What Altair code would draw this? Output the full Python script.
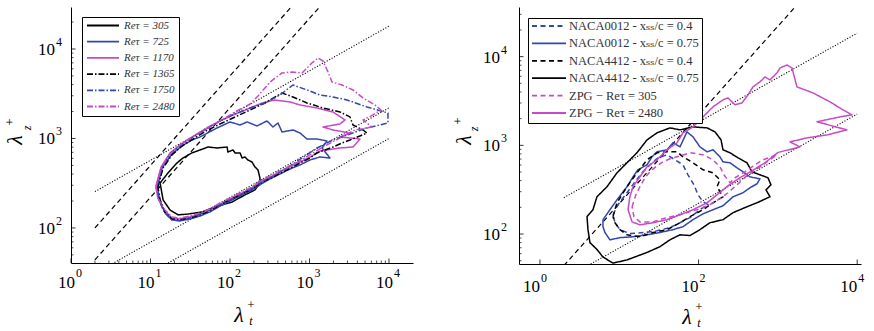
import math

import altair as alt
import pandas as pd

FONT = "Liberation Serif, DejaVu Serif, serif"
BLACK = "#000000"
BLUE = "#3146ae"
MAGENTA = "#c74ac6"

SOLID = [1, 0]
DASH = [5, 3.5]
DASHDOT = [6, 2, 1.5, 2]

# ---------------------------------------------------------------------------
# Left panel: ZPG boundary layers, one contour per Re_tau
# ---------------------------------------------------------------------------
zpg_names = ["Reτ = 305", "Reτ = 725", "Reτ = 1170",
             "Reτ = 1365", "Reτ = 1750", "Reτ = 2480"]
zpg_colors = [BLACK, BLUE, MAGENTA, BLACK, BLUE, MAGENTA]
zpg_dashes = [SOLID, SOLID, SOLID, DASHDOT, DASHDOT, DASHDOT]

re305_lt = [13.2, 14.4, 17.6, 22.2, 29.6, 44.5, 64.8, 106, 154, 206, 238, 238, 225, 206, 189, 168,
            154, 142, 134, 116, 109, 94, 92, 69, 53, 42, 33, 25.6, 21.5, 16.6, 13.2]
re305_lz = [318, 206, 159, 140, 143, 151, 172, 195, 234, 266, 318, 362, 445, 481, 546, 575,
            621, 605, 689, 689, 744, 707, 803, 783, 803, 744, 689, 605, 532, 412, 318]

re725_lt = [12.1, 14, 18.6, 24.9, 33.3, 42, 68.6, 100, 134, 164, 219, 292, 347, 402, 451, 620,
            760, 930, 1242, 1660, 1436, 1811, 1355, 1015, 760, 569, 425, 319, 260, 179, 134,
            100, 75, 56, 42, 31.4, 23.5, 18.6, 15.2, 13.2, 12.1]
re725_lz = [280, 468, 671, 824, 962, 1040, 1310, 1529, 1415, 1529, 1380, 1570, 1344, 1490, 1182, 1244,
            1152, 986, 986, 938, 783, 605, 621, 575, 506, 456, 401, 353, 318, 259, 228,
            200, 176, 151, 136, 126, 120, 123, 147, 200, 280]

re1170_lt = [11.7, 13.6, 17.6, 23.5, 33.3, 48.5, 70.6, 109, 179, 253, 368, 569, 760, 1242, 1976,
             2797, 2420, 1479, 1976, 3230, 2420, 4317, 3525, 2420, 1355, 1015, 760, 569, 425, 319,
             238, 179, 134, 100, 75, 56, 42, 31.4, 23.5, 18.6, 14.8, 12.4, 11.7]
re1170_lz = [294, 481, 689, 846, 1040, 1244, 1529, 1832, 2193, 2494, 2691, 2558, 2366, 2193, 1977,
             1610, 1452, 1344, 1244, 1152, 1040, 986, 803, 783, 724, 621, 546, 481, 423, 371,
             327, 273, 240, 211, 185, 159, 143, 133, 126, 129, 159, 216, 294]

re1365_lt = [12.4, 14.4, 18.6, 24.9, 34.3, 49.9, 74.8, 116, 179, 276, 451, 620, 930, 1479, 2420,
             3230, 3525, 4710, 5285, 4317, 3230, 2564, 1976, 1567, 1242, 1015, 760, 620, 464, 347,
             260, 179, 134, 100, 75, 56, 42, 31.4, 23.5, 18.6, 15.2, 13.2, 12.4]
re1365_lz = [287, 468, 655, 824, 986, 1213, 1452, 1740, 2081, 2494, 3223, 2911, 2494, 2193, 1977,
             1740, 1415, 1244, 1152, 1067, 962, 891, 803, 744, 689, 605, 532, 481, 423, 371,
             327, 266, 234, 206, 181, 155, 140, 129, 123, 126, 151, 206, 287]

re1750_lt = [12.1, 14, 18.1, 24.2, 33.3, 48.5, 74.8, 116, 179, 276, 425, 620, 930, 1355, 1976,
             2966, 5285, 9709, 9709, 5285, 3230, 1976, 1242, 878, 620, 464, 319, 238, 179, 134,
             100, 75, 56, 42, 31.4, 23.5, 18.6, 14.8, 12.8, 12.1]
re1750_lz = [294, 481, 689, 846, 1014, 1277, 1570, 1879, 2193, 2494, 3062, 3961, 3484, 3062, 2911,
             2691, 2249, 1928, 1490, 1310, 1122, 962, 783, 637, 519, 445, 362, 318, 266, 234,
             206, 181, 159, 143, 129, 120, 123, 151, 206, 294]

re2480_lt = [11.7, 13.6, 17.6, 23.5, 33.3, 48.5, 74.8, 116, 179, 225, 319, 451, 603, 805, 1075,
             1279, 1479, 1710, 1919, 2564, 3525, 4710, 6668, 7925, 6293, 4710, 6113, 3736, 2420,
             1567, 1107, 760, 569, 425, 319, 238, 179, 134, 100, 75, 56, 42, 31.4, 23.5, 18.6,
             14.8, 12.4, 11.7]
re2480_lz = [287, 468, 671, 846, 1040, 1277, 1570, 1977, 2427, 2985, 4276, 5395, 5536, 5395, 6982,
             7930, 7341, 5536, 4276, 3961, 3484, 2838, 2366, 2081, 1832, 1610, 1344, 1244, 1014,
             824, 689, 561, 493, 434, 381, 335, 280, 246, 216, 190, 163, 147, 136, 129, 133,
             163, 216, 287]

# reference lines of the left panel (end points)
left_dash_id = ["a", "a", "b", "b"]
left_dash_lt = [2, 600, 2, 1340]
left_dash_lz = [100, 30000, 44, 29480]
left_dot_id = ["a", "a", "b", "b", "c", "c"]
left_dot_lt = [2, 10000, 2, 10000, 2, 10000]
left_dot_lz = [255, 18000, 31, 2200, 14, 1000]

# ---------------------------------------------------------------------------
# Right panel: airfoil suction sides against the ZPG limits
# ---------------------------------------------------------------------------
foil_names = ["NACA0012 - xₛₛ/c = 0.4", "NACA0012 - xₛₛ/c = 0.75",
              "NACA4412 - xₛₛ/c = 0.4", "NACA4412 - xₛₛ/c = 0.75",
              "ZPG − Reτ = 305", "ZPG − Reτ = 2480"]
foil_colors = [BLUE, BLUE, BLACK, BLACK, MAGENTA, MAGENTA]
foil_dashes = [DASH, SOLID, DASH, SOLID, DASH, SOLID]

n0012_04_lt = [8.33, 9.63, 12.5, 15.8, 19.3, 24.4, 30.8, 40, 50.4, 63.6, 73.5, 87.5, 98.2, 114,
               131.5, 104, 78, 58.3, 43.6, 29.9, 21.1, 13.6, 10.2, 8.83, 8.33]
n0012_04_lz = [165, 214, 292, 388, 489, 603, 723, 782, 687, 603, 465, 359, 277, 231,
               214, 188, 153, 134, 118, 109, 104, 101, 112, 134, 165]

n0012_075_lt = [6.23, 7.63, 9.35, 12.5, 14.9, 17.2, 22.4, 25.8, 29.9, 40, 47.6, 58.3, 71.4, 85,
                104, 128, 152, 186, 203, 249, 305, 363, 444, 594, 545, 444, 363, 272, 203, 152,
                114, 85, 63.6, 47.6, 32.6, 22.4, 14.9, 10.2, 7.63, 6.6, 6.23, 6.23]
n0012_075_lz = [145, 188, 243, 341, 441, 530, 603, 742, 845, 891, 1067, 961, 1419, 1248,
                961, 845, 891, 742, 652, 636, 558, 503, 441, 419, 368, 332, 292, 263, 208, 188,
                169, 145, 121, 112, 104, 98, 93, 91, 86, 104, 121, 145]

n4412_04_lt = [8.33, 9.35, 12.5, 16.7, 22.4, 29.9, 40, 53.3, 63.6, 85, 114, 152, 186, 171, 203,
               152, 114, 78, 58.3, 40, 26.6, 18.2, 12.5, 10.2, 8.83, 8.33]
n4412_04_lz = [157, 225, 341, 489, 687, 824, 845, 845, 742, 636, 530, 489, 409, 341, 263,
               225, 188, 157, 134, 112, 104, 93, 98, 112, 134, 157]

n4412_075_lt = [85, 128, 161, 192, 203, 249, 314, 408, 471, 594, 750, 818, 708, 795, 545, 408,
                272, 203, 139, 104, 78, 58.3, 43.6, 32.6, 22.4, 12.5, 8.33, 6.23, 5.23, 4.27,
                4.03, 3.92, 4.66, 5.23, 7.0, 9.35, 12.5, 16.7, 22.4, 29.9, 43.6, 58.3, 85]
n4412_075_lz = [1614, 1573, 1419, 1153, 891, 824, 723, 636, 503, 465, 431, 359, 315, 263, 225, 203,
                174, 145, 134, 112, 96, 98, 86, 72, 62, 51, 47, 55, 67, 80,
                112, 157, 188, 263, 341, 489, 636, 824, 1153, 1383, 1573, 1494, 1614]

zpg305_lt = [14.5, 16.2, 18.2, 21.1, 24.4, 29.9, 35.6, 43.6, 53.3, 78, 114, 152, 186, 209, 249,
             288, 385, 514, 649, 974, 795, 594, 420, 305, 235, 186, 139, 95.5, 58.3, 35.6, 26.6,
             18.2, 15.3, 14.5]
zpg305_lz = [203, 277, 341, 431, 503, 588, 652, 705, 742, 824, 782, 687, 573, 465, 378,
             431, 503, 603, 687, 782, 687, 573, 465, 359, 292, 250, 214, 188, 165, 149, 137,
             137, 157, 203]

zpg2480_lt = [14.9, 18.2, 22.4, 29.9, 40, 53.3, 63.6, 85, 104, 128, 152, 203, 235, 288, 352, 420,
              485, 594, 688, 795, 974, 1063, 1303, 1506, 1741, 2773, 4540, 6625, 8590, 6070, 3112,
              7430, 4160, 2328, 1421, 1900, 1000, 688, 471, 333, 235, 171, 128, 85, 58.3, 40,
              26.6, 18.2, 14.5, 12.9, 13.6, 14.9]
zpg2480_lz = [341, 441, 573, 687, 891, 1067, 1383, 1614, 1937, 2323, 2717, 3254, 3426, 2860, 3009, 3700,
              4560, 5190, 5900, 5470, 6550, 7460, 8060, 7460, 4560, 3900, 3090, 2511, 2208, 2093, 1842,
              1494, 1312, 1213, 1094, 961, 830, 636, 516, 431, 350, 277, 225, 188, 165, 145,
              134, 127, 137, 188, 263, 341]

right_dash_id = ["a", "a"]
right_dash_lt = [2, 1650]
right_dash_lz = [44, 36300]
right_dot_id = ["a", "a", "b", "b"]
right_dot_lt = [2, 10000, 2, 10000]
right_dot_lz = [257, 18400, 31, 2250]

# axis ticks
left_x_major = [1, 10, 100, 1000, 10000]
left_x_minor = [m * 10 ** k for k in range(4) for m in range(2, 10)]
left_y_major = [100, 1000, 10000]
left_y_minor = [50, 60, 70, 80, 90] + [m * 10 ** k for k in (2, 3) for m in range(2, 10)] + [20000]
right_x_major = [1, 100, 10000]
right_x_minor = []
right_y_major = [100, 1000, 10000]
right_y_minor = [50, 60, 70, 80, 90] + [m * 10 ** k for k in (2, 3) for m in range(2, 10)] + [20000, 30000]


def contour_table(names, lts, lzs):
    rows = []
    for name, xs, ys in zip(names, lts, lzs):
        assert len(xs) == len(ys), name
        for k, (a, b) in enumerate(zip(xs, ys)):
            rows.append({"series": name, "k": k, "lt": a, "lz": b})
    return pd.DataFrame(rows)


def exponent_table(values):
    return pd.DataFrame({"v": values,
                         "base": ["10"] * len(values),
                         "exp": [str(int(round(math.log10(v)))) for v in values]})


ONE = pd.DataFrame({"n": [0]})


def caption(text, x, y, size, style="normal", angle=0):
    return alt.Chart(ONE).mark_text(
        text=text, font=FONT, fontSize=size, fontStyle=style, angle=angle,
        align="center", baseline="middle", color="black",
    ).encode(x=alt.value(x), y=alt.value(y))


def panel(contours, names, colors, dashes, legend, dash_ref, dot_ref, xdom, ydom, w, h,
          xmajor, xminor, ymajor, yminor, xlab, ylab, titles, frame=False):
    xs = alt.Scale(type="log", domain=xdom, nice=False)
    ys = alt.Scale(type="log", domain=ydom, nice=False)
    ax = alt.Axis(labels=False, ticks=False, grid=False, title=None,
                  domainColor="black", domainWidth=1)

    def X(f):
        return alt.X(f, type="quantitative", scale=xs, axis=ax)

    def Y(f):
        return alt.Y(f, type="quantitative", scale=ys, axis=ax)

    layers = []
    if frame:
        layers.append(alt.Chart(ONE).mark_rect(opacity=0).encode(
            x=alt.value(-71), x2=alt.value(0), y=alt.value(-7), y2=alt.value(h)))

    layers.append(alt.Chart(dash_ref).mark_line(
        clip=True, color="black", strokeWidth=1.2, strokeDash=[5, 3.5]
    ).encode(x=X("lt"), y=Y("lz"), detail="id:N"))
    layers.append(alt.Chart(dot_ref).mark_line(
        clip=True, color="black", strokeWidth=1.1, strokeDash=[1.1, 1.7]
    ).encode(x=X("lt"), y=Y("lz"), detail="id:N"))

    layers.append(alt.Chart(contours).mark_line(
        strokeWidth=1.5, strokeJoin="round"
    ).encode(
        x=X("lt"), y=Y("lz"),
        color=alt.Color("series:N", scale=alt.Scale(domain=names, range=colors), legend=legend),
        strokeDash=alt.StrokeDash("series:N", scale=alt.Scale(domain=names, range=dashes), legend=legend),
        order=alt.Order("k:Q"),
    ))

    # inward ticks
    layers.append(alt.Chart(pd.DataFrame({"v": xmajor})).mark_rule(color="black", strokeWidth=0.8)
                  .encode(x=X("v"), y=alt.value(h), y2=alt.value(h - 4.5)))
    if xminor:
        layers.append(alt.Chart(pd.DataFrame({"v": xminor})).mark_rule(color="black", strokeWidth=0.7)
                      .encode(x=X("v"), y=alt.value(h), y2=alt.value(h - 2.5)))
    layers.append(alt.Chart(pd.DataFrame({"v": ymajor})).mark_rule(color="black", strokeWidth=0.8)
                  .encode(y=Y("v"), x=alt.value(0), x2=alt.value(4.5)))
    layers.append(alt.Chart(pd.DataFrame({"v": yminor})).mark_rule(color="black", strokeWidth=0.7)
                  .encode(y=Y("v"), x=alt.value(0), x2=alt.value(2.5)))

    # tick labels 10^k
    xt = exponent_table(xmajor)
    layers.append(alt.Chart(xt).mark_text(
        font=FONT, fontSize=17, align="right", baseline="alphabetic", dx=xlab[0], color="black"
    ).encode(x=X("v"), y=alt.value(h + xlab[1]), text="base:N"))
    layers.append(alt.Chart(xt).mark_text(
        font=FONT, fontSize=12, align="left", baseline="alphabetic", dx=xlab[0] + 1, color="black"
    ).encode(x=X("v"), y=alt.value(h + xlab[2]), text="exp:N"))
    yt = exponent_table(ymajor)
    layers.append(alt.Chart(yt).mark_text(
        font=FONT, fontSize=17, align="right", baseline="middle", dy=1, color="black"
    ).encode(y=Y("v"), x=alt.value(-ylab), text="base:N"))
    layers.append(alt.Chart(yt).mark_text(
        font=FONT, fontSize=12, align="left", baseline="middle", dy=-7, color="black"
    ).encode(y=Y("v"), x=alt.value(-ylab + 1), text="exp:N"))

    # axis titles: lambda_t^+ and lambda_z^+
    for t in titles:
        layers.append(caption(*t))

    return alt.layer(*layers).properties(width=w, height=h)


left_legend = alt.Legend(
    title=None, orient="none", legendX=11, legendY=10,
    symbolType="stroke", symbolSize=1024, symbolStrokeWidth=1.8,
    clipHeight=9, rowPadding=4.2, padding=4, labelOffset=4,
    labelFont=FONT, labelFontSize=11, labelFontStyle="italic", labelColor="#333",
    fillColor="white", strokeColor="black",
)
right_legend = alt.Legend(
    title=None, orient="none", legendX=9, legendY=11,
    symbolType="stroke", symbolSize=1156, symbolStrokeWidth=1.8,
    clipHeight=10, rowPadding=4.4, padding=3, labelOffset=2,
    labelFont=FONT, labelFontSize=12.5, labelColor="#333", labelLimit=300,
    fillColor="white", strokeColor="black",
)

left_contours = contour_table(
    zpg_names,
    [re305_lt, re725_lt, re1170_lt, re1365_lt, re1750_lt, re2480_lt],
    [re305_lz, re725_lz, re1170_lz, re1365_lz, re1750_lz, re2480_lz],
)
right_contours = contour_table(
    foil_names,
    [n0012_04_lt, n0012_075_lt, n4412_04_lt, n4412_075_lt, zpg305_lt, zpg2480_lt],
    [n0012_04_lz, n0012_075_lz, n4412_04_lz, n4412_075_lz, zpg305_lz, zpg2480_lz],
)

left = panel(
    left_contours, zpg_names, zpg_colors, zpg_dashes, left_legend,
    pd.DataFrame({"id": left_dash_id, "lt": left_dash_lt, "lz": left_dash_lz}),
    pd.DataFrame({"id": left_dot_id, "lt": left_dot_lt, "lz": left_dot_lz}),
    [1, 20050], [40.6, 29450], 342, 256,
    left_x_major, left_x_minor, left_y_major, left_y_minor,
    xlab=(4, 25, 14), ylab=16,
    titles=[("λ", 168, 308, 22, "italic"), ("+", 180, 298, 13), ("t", 180, 314, 12, "italic"),
            ("λ", -56, 133, 22, "italic", 270), ("+", -61, 115, 13, "normal", 270),
            ("z", -44, 121, 12, "italic", 270)],
    frame=True,
)
right = panel(
    right_contours, foil_names, foil_colors, foil_dashes, right_legend,
    pd.DataFrame({"id": right_dash_id, "lt": right_dash_lt, "lz": right_dash_lz}),
    pd.DataFrame({"id": right_dot_id, "lt": right_dot_lt, "lz": right_dot_lz}),
    [0.544, 11170], [45.9, 36300], 342, 257,
    right_x_major, right_x_minor, right_y_major, right_y_minor,
    xlab=(0, 28, 18), ylab=19,
    titles=[("λ", 168, 310, 22, "italic"), ("+", 180, 300, 13), ("t", 180, 316, 12, "italic"),
            ("λ", -55, 133, 22, "italic", 270), ("+", -61, 114, 13, "normal", 270),
            ("z", -45, 122, 12, "italic", 270)],
)

chart = (
    alt.hconcat(left, right, spacing=106, bounds="flush")
    .resolve_scale(x="independent", y="independent", color="independent", strokeDash="independent")
    .resolve_legend(color="independent", strokeDash="independent")
    .properties(padding=0, background="white")
    .configure_view(stroke=None)
)

chart.save("out.html", embed_options={"renderer": "svg", "actions": False})
